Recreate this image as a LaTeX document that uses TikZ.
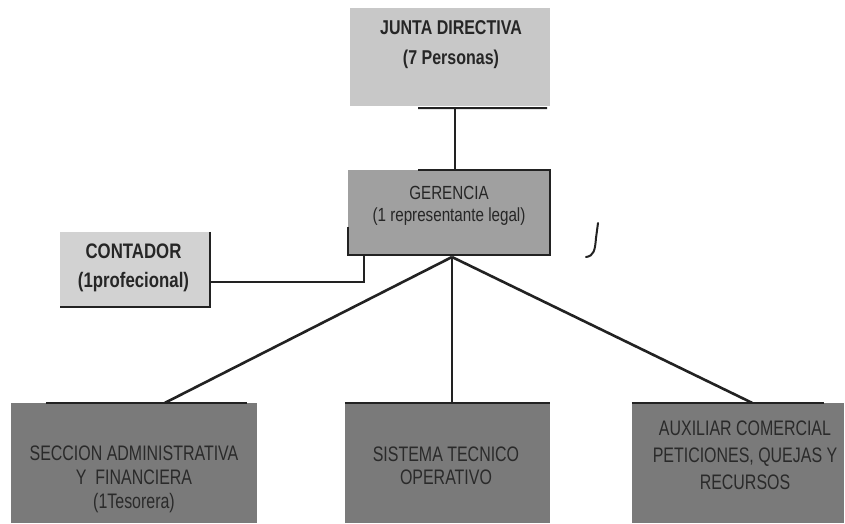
\documentclass[tikz,border=0pt]{standalone}
\usepackage{fontspec}
\setmainfont{Liberation Sans}
\newfontfamily\narrowfont[FakeStretch=0.8]{Liberation Sans}
\newfontfamily\botfont[FakeStretch=0.76]{Liberation Sans}
\usetikzlibrary{calc}
\definecolor{juntafill}{HTML}{C8C8C8}
\definecolor{gerfill}{HTML}{A0A0A0}
\definecolor{contfill}{HTML}{D2D2D2}
\definecolor{botfill}{HTML}{7A7A7A}
\definecolor{bottext}{HTML}{2A2A2A}
\definecolor{toptext}{HTML}{262626}
\definecolor{edge}{HTML}{222222}
\begin{document}
\begin{tikzpicture}[x=1pt,y=-1pt,
  box/.style={inner sep=0pt, minimum height=#1},
  lbl/.style={inner sep=0pt, align=center, text=toptext},
  botlbl/.style={inner sep=0pt, align=center, text=bottext},
  conn/.style={draw=edge, line width=2.6pt}
]
\useasboundingbox (0,0) rectangle (845,523);
\fill[white] (0,0) rectangle (845,523);

% boxes
\node[box=98pt, fill=juntafill, minimum width=200pt] (junta) at (450,57) {};
\node[box=85pt, fill=gerfill, minimum width=202pt] (ger) at (449,212.5) {};
\node[box=75pt, fill=contfill, minimum width=150pt] (cont) at (135,269.5) {};
\node[box=120pt, fill=botfill, minimum width=246pt] (sec) at (134,463) {};
\node[box=120pt, fill=botfill, minimum width=205pt] (sis) at (447.5,463) {};
\node[box=120pt, fill=botfill, minimum width=212pt] (aux) at (738,463) {};

% texts
\node[lbl, font=\narrowfont\bfseries\fontsize{20}{30}\selectfont] (juntaT) at (451,45) {JUNTA DIRECTIVA\\(7 Personas)};
\node[lbl, font=\narrowfont\fontsize{19}{22}\selectfont] (gerT) at (449,206) {GERENCIA\\(1 representante legal)};
\node[lbl, font=\narrowfont\bfseries\fontsize{21}{29}\selectfont] (contT) at (133.5,268) {CONTADOR\\(1profecional)};
\node[botlbl, font=\botfont\fontsize{21}{24}\selectfont] (secT) at (134,479) {SECCION ADMINISTRATIVA\\Y\ \ FINANCIERA\\(1Tesorera)};
\node[botlbl, font=\botfont\fontsize{21}{23}\selectfont] (sisT) at (446,466) {SISTEMA TECNICO\\OPERATIVO};
\node[botlbl, font=\botfont\fontsize{21}{27}\selectfont] (auxT) at (745,455) {AUXILIAR COMERCIAL\\PETICIONES, QUEJAS Y\\RECURSOS};

% dark edges
\draw[edge, line width=2pt] (418,108) -- ($(junta.south east)+(-3,2)$);
\draw[edge, line width=2pt] ($(ger.north west)+(70,0)$) -- (ger.north east) -- (ger.south east) -- (ger.south west) -- ++(0,-28);
\draw[edge, line width=2pt] (cont.north east) -- (cont.south east) -- (cont.south west);
\draw[edge, line width=1.5pt] ($(sec.north west)+(35,0)$) -- ($(sec.north east)+(-10,0)$);
\draw[edge, line width=1.5pt] (sis.north west) -- (sis.north east);
\draw[edge, line width=1.5pt] (aux.north west) -- ($(aux.north east)+(-20,0)$);

% connectors
\coordinate (gs) at (452,257);
\draw[conn] (455,108) -- (ger.north -| 455,0);
\draw[conn] (cont.east |- 0,282) -- (364,282) -- (ger.south -| 364,0);
\draw[conn] (gs) -- (sec.north -| 165,0);
\draw[conn] (gs) -- (sis.north -| 452,0);
\draw[conn] (gs) -- (aux.north -| 752,0);

% stray pen mark
\draw[edge, line width=2pt, line cap=round] (586,257) .. controls (594,256) and (595,250) .. (596,238) -- (598,223);
\end{tikzpicture}
\end{document}
